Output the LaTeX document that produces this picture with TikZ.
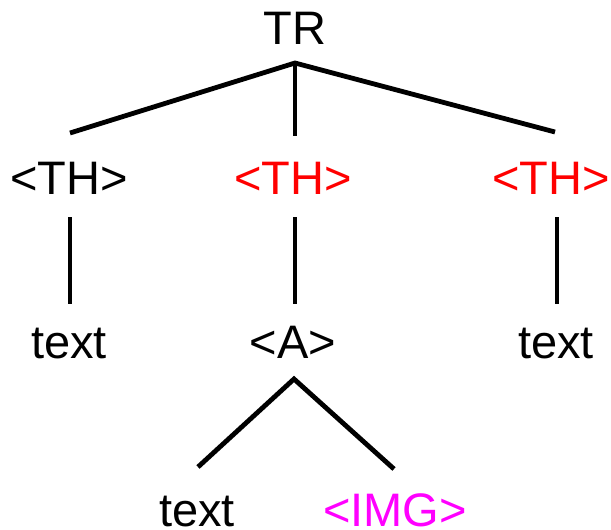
\documentclass[tikz,border=0pt]{standalone}
\usepackage{fontspec}
\setmainfont{Liberation Sans}
\definecolor{threda}{RGB}{255,0,0}
\definecolor{imgmag}{RGB}{255,0,255}
\begin{document}
\begin{tikzpicture}[x=1pt,y=-1pt,
  lbl/.style={inner sep=0pt, anchor=base, font=\fontsize{47}{50}\selectfont},
  edge/.style={line width=4.8pt, black}]
\useasboundingbox (0,0) rectangle (611,530);
% labels
\node[lbl] (tr) at (295,44) {TR};
\node[lbl] (th1) at (69,194) {<TH>};
\node[lbl, text=threda] (th2) at (293,194) {<TH>};
\node[lbl, text=threda] (th3) at (551,194) {<TH>};
\node[lbl] (t1) at (69,358) {text};
\node[lbl] (a) at (293,358) {<A>};
\node[lbl] (t3) at (556,358) {text};
\node[lbl] (t4) at (197,526) {text};
\node[lbl, text=imgmag] (img) at (395,526) {<IMG>};
% connector end points
\coordinate (apex) at (295,63);
\coordinate (th1up) at (70,133);
\coordinate (th2up) at (295,136);
\coordinate (th3up) at (555,132);
\coordinate (th1dn) at (70,217);
\coordinate (th2dn) at (295,217);
\coordinate (th3dn) at (557,217);
\coordinate (t1up) at (70,304);
\coordinate (aup) at (295,304);
\coordinate (t3up) at (557,304);
\coordinate (aapex) at (294,379);
\coordinate (t4up) at (198,467);
\coordinate (imgup) at (394,469);
% connectors
\draw[edge] (th1up) -- (apex) -- (th3up);
\draw[edge] (apex) -- (th2up);
\draw[edge] (th1dn) -- (t1up);
\draw[edge] (th2dn) -- (aup);
\draw[edge] (th3dn) -- (t3up);
\draw[edge] (t4up) -- (aapex) -- (imgup);
\end{tikzpicture}
\end{document}
